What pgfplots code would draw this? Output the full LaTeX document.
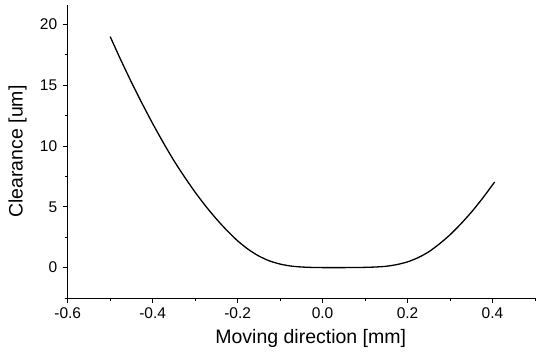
\documentclass[border=0pt]{standalone}
\usepackage{pgfplots}
\pgfplotsset{compat=1.18}
\usepackage{fontspec}
\setmainfont{Liberation Sans}
\newcommand\tl[1]{{\fontsize{15.5}{17}\selectfont #1}}
\begin{document}
\begin{tikzpicture}
\begin{axis}[
  scale only axis,
  width=467.3pt, height=293pt,
  xmin=-0.6, xmax=0.5,
  ymin=-2.5, ymax=21.6,
  axis lines=left,
  x axis line style={-, line width=1pt},
  y axis line style={-, line width=1pt},
  tick align=outside,
  xtick={-0.6,-0.4,-0.2,0,0.2,0.4},
  xticklabels={\tl{-0.6},\tl{-0.4},\tl{-0.2},\tl{0.0},\tl{0.2},\tl{0.4}},
  minor xtick={-0.5,-0.3,-0.1,0.1,0.3,0.5},
  ytick={0,5,10,15,20},
  yticklabels={\tl{0},\tl{5},\tl{10},\tl{15},\tl{20}},
  minor ytick={-2.5,2.5,7.5,12.5,17.5},
  major tick length=5pt,
  minor tick length=3pt,
  every tick/.style={black, line width=0.8pt},
  xticklabel style={yshift=-1pt},
  yticklabel style={xshift=-2pt},
  xlabel={Moving direction [mm]},
  ylabel={Clearance [um]},
  xlabel style={font=\fontsize{19.5}{22}\selectfont, at={(axis description cs:0.52,-0.1365)}, anchor=center},
  ylabel style={font=\fontsize{19.5}{22}\selectfont, at={(axis description cs:-0.107,0.5)}, anchor=center},
  clip=false,
]
\addplot[black, line width=1.3pt, smooth, tension=0.4] coordinates {
(-0.500,19.0)
(-0.475,17.08)
(-0.450,15.25)
(-0.425,13.51)
(-0.400,11.85)
(-0.375,10.28)
(-0.350,8.8)
(-0.325,7.46)
(-0.300,6.2)
(-0.275,5.05)
(-0.250,4.0)
(-0.225,3.05)
(-0.200,2.2)
(-0.175,1.5)
(-0.150,0.95)
(-0.125,0.55)
(-0.100,0.29)
(-0.075,0.13)
(-0.050,0.05)
(-0.025,0.015)
(0.000,0.0)
(0.025,0.0)
(0.050,0.0)
(0.075,0.005)
(0.100,0.02)
(0.125,0.05)
(0.150,0.11)
(0.175,0.25)
(0.200,0.47)
(0.225,0.82)
(0.250,1.3)
(0.275,1.95)
(0.300,2.7)
(0.325,3.58)
(0.350,4.55)
(0.375,5.63)
(0.405,7.04)
};
\end{axis}
\pgfresetboundingbox
\path (current axis.south west) +(-67.7pt,-58pt) (current axis.north east) +(9pt,5pt);
\end{tikzpicture}
\end{document}
